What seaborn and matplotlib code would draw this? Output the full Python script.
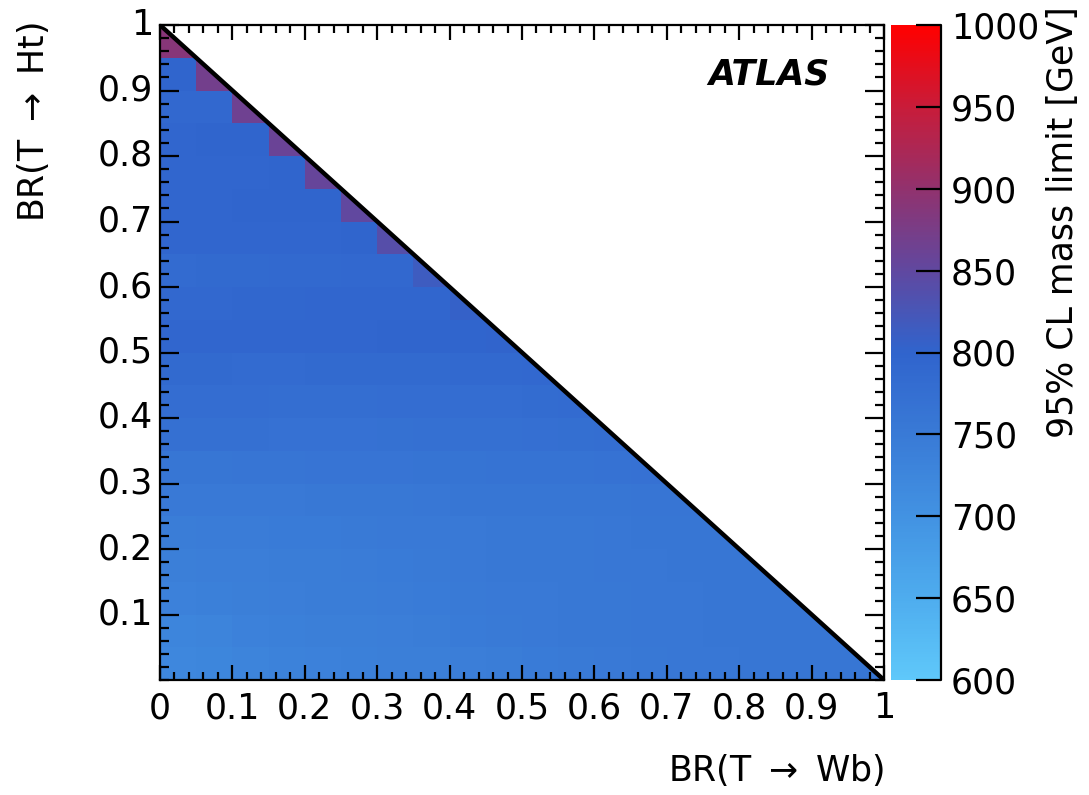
import numpy as np
import pandas as pd
import matplotlib
matplotlib.use("Agg")
import matplotlib.pyplot as plt
from matplotlib.colors import LinearSegmentedColormap
from matplotlib.ticker import FixedLocator
import seaborn as sns

sns.set_style("ticks")
plt.rcParams['font.family'] = ['DejaVu Sans']
plt.rcParams['mathtext.fontset'] = 'dejavusans'
plt.rcParams['axes.axisbelow'] = False
plt.rcParams['text.color'] = 'black'

# ---------------- data ----------------
# bin lower edges
br_wb = [0.00, 0.05, 0.10, 0.15, 0.20, 0.25, 0.30, 0.35, 0.40, 0.45,
         0.50, 0.55, 0.60, 0.65, 0.70, 0.75, 0.80, 0.85, 0.90, 0.95]
br_ht = [0.00, 0.05, 0.10, 0.15, 0.20, 0.25, 0.30, 0.35, 0.40, 0.45,
         0.50, 0.55, 0.60, 0.65, 0.70, 0.75, 0.80, 0.85, 0.90, 0.95]

# 95% CL mass limits [GeV], one row per BR(T->Ht) bin (bottom to top),
# columns along BR(T->Wb) up to the kinematic boundary
row_00 = [722, 725, 730, 733, 735, 738, 740, 740, 742, 745, 748, 750, 752, 755, 757, 757, 758, 758, 758, 760]
row_05 = [728, 730, 735, 738, 740, 740, 742, 745, 748, 750, 752, 755, 756, 757, 757, 758, 758, 759, 760]
row_10 = [735, 738, 740, 742, 744, 745, 746, 748, 750, 752, 753, 755, 756, 757, 757, 758, 758, 760]
row_15 = [740, 742, 742, 744, 745, 746, 748, 750, 752, 754, 755, 756, 757, 757, 758, 758, 760]
row_20 = [745, 746, 746, 748, 748, 750, 752, 752, 753, 754, 755, 756, 757, 758, 758, 760]
row_25 = [752, 752, 753, 753, 754, 755, 756, 757, 758, 758, 759, 760, 760, 761, 762]
row_30 = [760, 760, 762, 762, 763, 763, 764, 765, 765, 766, 766, 767, 768, 770]
row_35 = [772, 772, 772, 770, 770, 770, 771, 772, 772, 773, 774, 775, 778]
row_40 = [780, 780, 779, 778, 778, 778, 779, 780, 780, 781, 782, 785]
row_45 = [786, 786, 785, 785, 786, 786, 787, 787, 788, 788, 790]
row_50 = [795, 795, 795, 796, 796, 796, 797, 797, 797, 800]
row_55 = [792, 792, 793, 793, 794, 794, 795, 795, 805]
row_60 = [785, 786, 787, 788, 789, 790, 792, 815]
row_65 = [795, 795, 795, 796, 796, 797, 840]
row_70 = [796, 796, 797, 797, 798, 850]
row_75 = [795, 796, 796, 797, 855]
row_80 = [796, 797, 798, 860]
row_85 = [790, 792, 865]
row_90 = [798, 870]
row_95 = [890]

rows = [row_00, row_05, row_10, row_15, row_20, row_25, row_30, row_35, row_40, row_45,
        row_50, row_55, row_60, row_65, row_70, row_75, row_80, row_85, row_90, row_95]

# kinematic boundary BR(Wb) + BR(Ht) = 1
boundary_wb = [0.0, 1.0]
boundary_ht = [1.0, 0.0]

x_major = [0, 0.1, 0.2, 0.3, 0.4, 0.5, 0.6, 0.7, 0.8, 0.9, 1]
x_major_labels = ["0", "0.1", "0.2", "0.3", "0.4", "0.5", "0.6", "0.7", "0.8", "0.9", "1"]
y_major = [0.1, 0.2, 0.3, 0.4, 0.5, 0.6, 0.7, 0.8, 0.9, 1]
y_major_labels = ["0.1", "0.2", "0.3", "0.4", "0.5", "0.6", "0.7", "0.8", "0.9", "1"]
cbar_ticks = [600, 650, 700, 750, 800, 850, 900, 950, 1000]

# ---------------- build table ----------------
nx = len(br_wb)
ny = len(br_ht)
grid = np.full((ny, nx), np.nan)
for i, r in enumerate(rows):
    grid[i, :len(r)] = r
df = pd.DataFrame(grid, index=[f"{v:.2f}" for v in br_ht],
                  columns=[f"{v:.2f}" for v in br_wb])

# ROOT-like palette
cmap = LinearSegmentedColormap.from_list(
    "atlas_limit",
    [(0.000, "#5fc8fa"), (0.125, "#4eacee"), (0.250, "#4292e2"), (0.375, "#397ad6"),
     (0.500, "#3064cd"), (0.625, "#6048a0"), (0.750, "#91326e"), (0.875, "#c81c3a"),
     (1.000, "#ff0000")], N=256)

W, H = 1089, 795
fig = plt.figure(figsize=(W / 100, H / 100), dpi=100)
ax = fig.add_axes([160 / W, 1 - 680 / H, 724 / W, 655 / H])
cax = fig.add_axes([891 / W, 1 - 680 / H, 50 / W, 655 / H])

sns.heatmap(df, ax=ax, cbar_ax=cax, cmap=cmap, vmin=600, vmax=1000,
            mask=df.isna(), cbar_kws={"ticks": cbar_ticks})
ax.invert_yaxis()
ax.set_xlim(0, nx)
ax.set_ylim(0, ny)
ax.set_axisbelow(False)
cax.set_axisbelow(False)

# region above the kinematic boundary
sx = [v * nx for v in boundary_wb]
sy = [v * ny for v in boundary_ht]
ax.fill([sx[0], sx[1], sx[1]], [sy[0], sy[0], sy[1]], color="white", zorder=2, lw=0)
ax.plot(sx, sy, color="black", lw=3.2, zorder=3, solid_capstyle="butt")

# axes frame and ticks (ROOT style)
for s in ax.spines.values():
    s.set_visible(True)
    s.set_color("black")
    s.set_linewidth(1.6)
    s.set_zorder(5)

ax.xaxis.set_major_locator(FixedLocator([v * nx for v in x_major]))
ax.set_xticklabels(x_major_labels)
ax.xaxis.set_minor_locator(FixedLocator([k * 0.4 for k in range(51)]))
ax.yaxis.set_major_locator(FixedLocator([v * ny for v in y_major]))
ax.set_yticklabels(y_major_labels, rotation=0)
ax.yaxis.set_minor_locator(FixedLocator([k * 0.4 for k in range(51)]))
ax.set_xlabel("")
ax.set_ylabel("")

ax.tick_params(axis="x", which="major", direction="in", length=11, width=1.6,
               top=True, bottom=True, labelsize=25, pad=8, colors="black")
ax.tick_params(axis="x", which="minor", direction="in", length=6, width=1.6,
               top=True, bottom=True, colors="black")
ax.tick_params(axis="y", which="major", direction="in", length=14, width=1.6,
               left=True, right=True, labelsize=25, pad=5, colors="black")
ax.tick_params(axis="y", which="minor", direction="in", length=6.5, width=1.6,
               left=True, right=True, colors="black")

# colorbar
cbar = ax.collections[0].colorbar
cbar.outline.set_visible(False)
cax.plot([1, 1], [0, 1], transform=cax.transAxes, color="black", lw=1.6, clip_on=False)
cax.tick_params(direction="in", length=18, width=1.6, labelsize=25, pad=7,
                right=True, left=False, colors="black")
cax.minorticks_off()

# texts
fig.text(884 / W, 1 - 770 / H, "BR(T $\\rightarrow$ Wb)", ha="right", va="center",
         fontsize=25, color="black")
fig.text(33 / W, 1 - 22 / H, "BR(T $\\rightarrow$ Ht)", ha="center", va="top",
         rotation=90, fontsize=25, color="black")
fig.text(1063 / W, 1 - 6 / H, "95% CL mass limit [GeV]", ha="center", va="top",
         rotation=90, fontsize=25, color="black")
ax.text(0.925, 0.925, "ATLAS", transform=ax.transAxes, ha="right", va="center",
        fontsize=25, fontweight="bold", fontstyle="italic", color="black", zorder=6)

fig.savefig("out.png", dpi=100, facecolor="white")
